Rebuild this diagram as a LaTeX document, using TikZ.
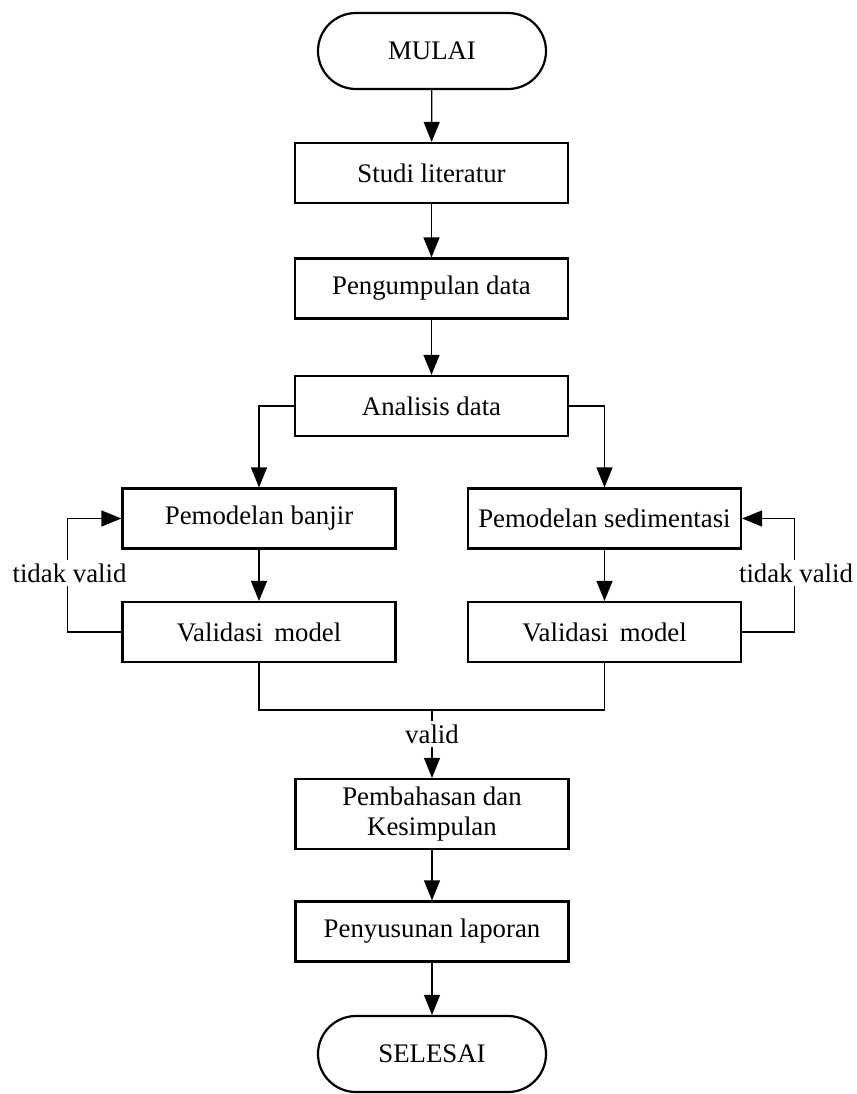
\documentclass[tikz,border=0pt]{standalone}
\usepackage{fontspec}
\setmainfont{Liberation Serif}
\usetikzlibrary{arrows.meta}
\begin{document}
\begin{tikzpicture}[x=0.5pt,y=-0.5pt,
  font=\fontsize{13.4}{15}\selectfont,
  box/.style={draw, line width=1.1pt, minimum width=136.5pt, minimum height=30pt, inner sep=0pt, align=center},
  term/.style={draw, line width=1.1pt, minimum width=114pt, minimum height=38pt, inner sep=0pt, rounded corners=19pt},
  conn/.style={line width=0.6pt},
  arr/.style={conn, -{Triangle[length=10pt,width=8pt]}},
  lbl/.style={fill=white, inner sep=2pt}]
\useasboundingbox (0,0) rectangle (857,1094);
\node[term] (mulai) at (432,51) {MULAI};
\node[box] (studi) at (431.5,173) {Studi literatur};
\node[box] (peng) at (431.5,288.5) {Pengumpulan data};
\node[box] (ana) at (431.5,406) {Analisis data};
\node[box] (pb) at (259,518.5) {Pemodelan banjir};
\node[box] (vb) at (259,632) {Validasi\, model};
\node[box] (ps) at (604.5,518.5) {Pemodelan sedimentasi};
\node[box] (vs) at (604.5,632) {Validasi\, model};
\node[box, minimum height=35pt] (pk) at (432,814) {Pembahasan dan\\Kesimpulan};
\node[box] (lap) at (432,931.5) {Penyusunan laporan};
\node[term] (sel) at (432,1054) {SELESAI};
\draw[arr] (mulai) -- (studi);
\draw[arr] (studi) -- (peng);
\draw[arr] (peng) -- (ana);
\draw[arr] (ana.west) -| (pb.north);
\draw[arr] (ana.east) -| (ps.north);
\draw[arr] (pb) -- (vb);
\draw[arr] (ps) -- (vs);
\draw[arr] (vb.west) -- ++(-54,0) |- (pb.west);
\draw[arr] (vs.east) -- ++(52,0) |- (ps.east);
\node[lbl] (tv1) at (69.5,573) {tidak valid};
\node[lbl] (tv2) at (796,573) {tidak valid};
\coordinate (j) at (432,710);
\draw[conn] (vb.south) -- (vb.south |- j) -- (vs.south |- j) -- (vs.south);
\draw[arr] (j) -- (pk.north);
\node[lbl] (valid) at (432,734) {valid};
\draw[arr] (pk) -- (lap);
\draw[arr] (lap) -- (sel);
\end{tikzpicture}
\end{document}
